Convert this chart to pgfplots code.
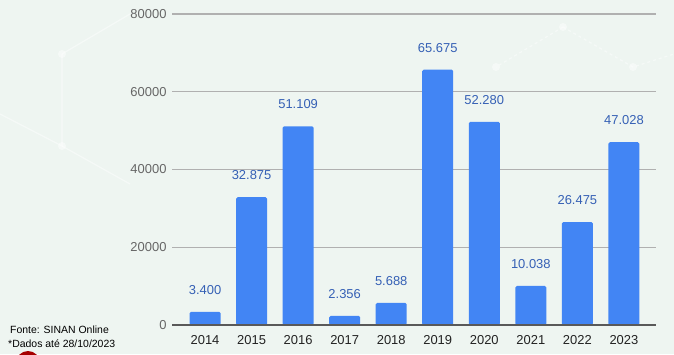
\documentclass[border=0pt]{standalone}
\usepackage{pgfplots}
\pgfplotsset{compat=1.18}
\usepackage{pgfplotstable}
\usepackage{fontspec}
\setmainfont{Liberation Sans}
\definecolor{bgc}{HTML}{EEF5F1}
\definecolor{barc}{HTML}{4285F4}
\definecolor{labc}{HTML}{3560B5}
\definecolor{gridc}{HTML}{B0B0B0}
\definecolor{ytc}{HTML}{666666}
\definecolor{xtc}{HTML}{222222}
\pgfplotstableread{
x y lab
0 3400 3.400
1 32875 32.875
2 51109 51.109
3 2356 2.356
4 5688 5.688
5 65675 65.675
6 52280 52.280
7 10038 10.038
8 26475 26.475
9 47028 47.028
}\datatab
\begin{document}
\begin{tikzpicture}[x=1bp,y=1bp]
\useasboundingbox (0,0) rectangle (674,354);
\fill[bgc] (0,0) rectangle (674,354);
% faint decorative lines
\begin{scope}[white,opacity=0.45,line width=1.2bp]
\draw (62,300) -- (62,208) -- (0,240);
\draw (62,300) -- (130,340);
\draw (62,208) -- (130,170);
\draw[dashed] (563,327) -- (633,287) -- (674,300);
\draw[dashed] (563,327) -- (496,287);
\fill (62,300) circle (4);
\fill (62,208) circle (4);
\fill (563,327) circle (4);
\fill (633,287) circle (4);
\fill (496,287) circle (4);
\end{scope}
\fill[red!65!black] (28,-9) circle (12);
\begin{axis}[
  at={(172bp,29bp)}, anchor=south west,
  scale only axis, width=484bp, height=311bp,
  ymin=0, ymax=80000, xmin=-0.71, xmax=9.69,
  ytick={0,20000,40000,60000,80000},
  yticklabels={0,20000,40000,60000,80000},
  scaled y ticks=false,
  xtick=data,
  xticklabels={2014,2015,2016,2017,2018,2019,2020,2021,2022,2023},
  axis line style={draw=none},
  axis x line*=bottom,
  major tick length=0pt,
  ymajorgrids, grid style={gridc, line width=1.3bp},
  yticklabel style={font=\fontsize{13}{13}\selectfont, text=ytc, xshift=-2bp},
  xticklabel style={font=\fontsize{13}{13}\selectfont, text=xtc, yshift=-7bp},
  /pgf/number format/assume math mode=true,
  ybar, bar width=31bp, bar shift=0pt,
  nodes near coords={\pgfplotspointmeta},
  point meta=explicit symbolic,
  every node near coord/.append style={anchor=center, yshift=22bp, font=\fontsize{13}{13}\selectfont, text=labc},
  clip=false,
]
\addplot[fill=barc, draw=none, rounded corners=1.5bp] table[x=x, y=y, meta=lab] {\datatab};
\draw[gray!70!black, line width=1.2bp] (axis cs:-0.71,0) -- (axis cs:9.69,0);
\end{axis}
\node[anchor=west, font=\fontsize{10.5}{10.5}\selectfont, text=black, inner sep=0] at (10,24) {Fonte: SINAN Online};
\node[anchor=west, font=\fontsize{10.5}{10.5}\selectfont, text=black, inner sep=0] at (8,10) {*Dados até 28/10/2023};
\end{tikzpicture}
\end{document}
